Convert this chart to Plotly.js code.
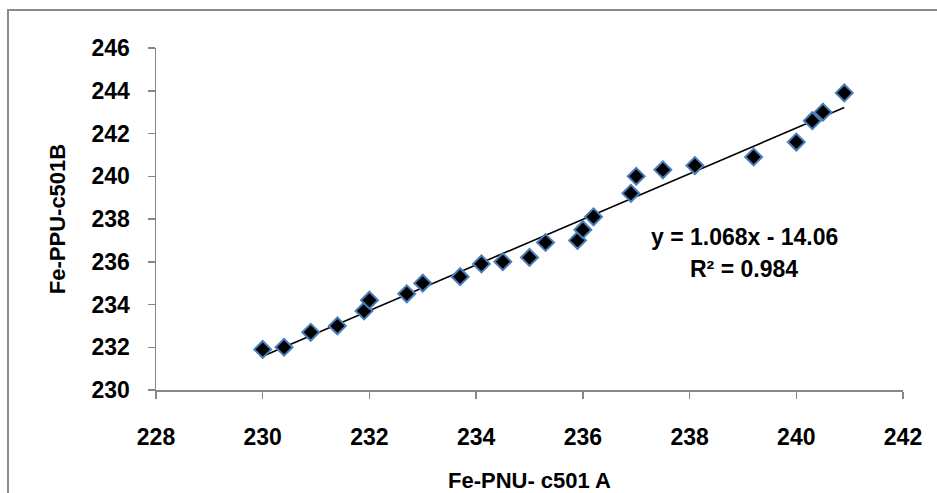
<!DOCTYPE html>
<html>
<head>
<meta charset="utf-8">
<script src="https://cdn.plot.ly/plotly-3.0.1.min.js"></script>
<style>
  html, body { margin: 0; padding: 0; background: #ffffff; }
  #wrap { position: relative; width: 937px; height: 493px; overflow: hidden; }
  #chart { position: absolute; left: 0; top: 0; width: 937px; height: 493px; }
  #frame { position: absolute; left: 7px; top: 9px; width: 1200px; height: 800px;
           border-top: 2px solid #8c8c8c; border-left: 2px solid #8c8c8c; pointer-events: none; }
</style>
</head>
<body>
<div id="wrap">
  <div id="chart"></div>
  <div id="frame"></div>
</div>
<script>
// Data
const feA = [230.0, 230.4, 230.9, 231.4, 231.9, 232.0, 232.7, 233.0, 233.7, 234.1, 234.5, 235.0, 235.3,
             235.9, 236.0, 236.2, 236.9, 237.0, 237.5, 238.1, 239.2, 240.0, 240.3, 240.5, 240.9];
const feB = [231.9, 232.0, 232.7, 233.0, 233.7, 234.2, 234.5, 235.0, 235.3, 235.9, 236.0, 236.2, 236.9,
             237.0, 237.5, 238.1, 239.2, 240.0, 240.3, 240.5, 240.9, 241.6, 242.6, 243.0, 243.9];
const trendSlope = 1.068;
const trendIntercept = -14.06;
const equationText = "y = 1.068x - 14.06";
const r2Text = "R\u00b2 = 0.984";
const xTitle = "Fe-PNU- c501 A";
const yTitle = "Fe-PPU-c501B";
const xTicks = [228, 230, 232, 234, 236, 238, 240, 242];
const yTicks = [230, 232, 234, 236, 238, 240, 242, 244, 246];

const xMin = Math.min(...feA), xMax = Math.max(...feA);
const trendX = [xMin, xMax];
const trendY = trendX.map(v => trendSlope * v + trendIntercept);

const FONT = "'Liberation Sans', Arial, sans-serif";
const AXIS_GRAY = "#868686";
const bold = s => "<b>" + s + "</b>";

const traces = [
  {
    x: trendX, y: trendY, type: "scatter", mode: "lines",
    line: { color: "#000000", width: 1.6 }, hoverinfo: "skip", showlegend: false
  },
  {
    x: feA, y: feB, type: "scatter", mode: "markers",
    marker: { symbol: "diamond", size: 13, color: "#000000", line: { color: "#4A7EBB", width: 2 } },
    showlegend: false
  }
];

const layout = {
  width: 937, height: 493,
  margin: { l: 156, r: 34, t: 48, b: 103 },
  paper_bgcolor: "#ffffff", plot_bgcolor: "#ffffff",
  showlegend: false,
  font: { family: FONT, color: "#000000" },
  xaxis: {
    range: [228, 242], tickvals: xTicks, ticktext: xTicks.map(v => bold(String(v))),
    showgrid: false, zeroline: false, showline: true, linecolor: AXIS_GRAY, linewidth: 1.5,
    ticks: "outside", ticklen: 7, tickwidth: 1.5, tickcolor: AXIS_GRAY,
    tickfont: { family: FONT, size: 23, color: "#000000" },
    ticklabelstandoff: 19,
    title: { text: bold(xTitle), font: { family: FONT, size: 22, color: "#000000" }, standoff: 24 },
    automargin: false, fixedrange: true
  },
  yaxis: {
    range: [230, 246], tickvals: yTicks, ticktext: yTicks.map(v => bold(String(v))),
    showgrid: false, zeroline: false, showline: true, linecolor: AXIS_GRAY, linewidth: 1.5,
    ticks: "outside", ticklen: 7, tickwidth: 1.5, tickcolor: AXIS_GRAY,
    tickfont: { family: FONT, size: 23, color: "#000000" },
    ticklabelstandoff: 13,
    title: { text: bold(yTitle), font: { family: FONT, size: 22, color: "#000000" }, standoff: 20 },
    automargin: false, fixedrange: true
  },
  annotations: [
    { x: 239.02, y: 237.16, xref: "x", yref: "y", text: bold(equationText), showarrow: false,
      xanchor: "center", yanchor: "middle", font: { family: FONT, size: 23, color: "#000000" } },
    { x: 239.02, y: 235.66, xref: "x", yref: "y", text: bold(r2Text), showarrow: false,
      xanchor: "center", yanchor: "middle", font: { family: FONT, size: 23, color: "#000000" } }
  ]
};

Plotly.newPlot("chart", traces, layout, { displayModeBar: false, staticPlot: true });
</script>
</body>
</html>
